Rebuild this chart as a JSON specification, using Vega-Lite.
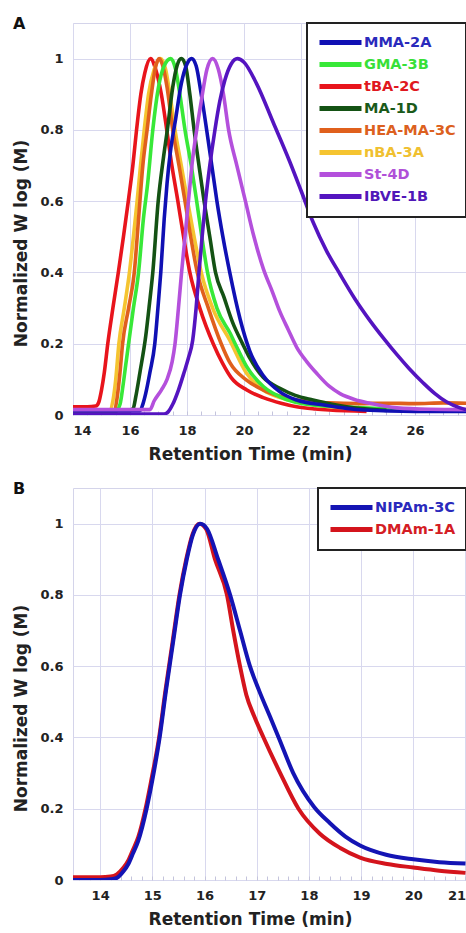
{
  "$schema": "https://vega.github.io/schema/vega-lite/v6.json",
  "background": "white",
  "padding": {"left": 12, "top": 15, "right": 0, "bottom": 0},
  "spacing": 17,
  "config": {
    "font": "DejaVu Sans",
    "view": {"stroke": "#d4d4ea", "strokeWidth": 1},
    "axis": {
      "labelFont": "DejaVu Sans", "labelFontWeight": "bold", "labelFontSize": 13, "labelColor": "#222",
      "titleFont": "DejaVu Sans", "titleFontWeight": "bold", "titleFontSize": 17, "titleColor": "#222",
      "domain": false
    },
    "legend": {
      "orient": "top-right", "offset": 0, "title": null,
      "symbolType": "M-3,0H3", "symbolSize": 196, "symbolStrokeWidth": 5, "symbolOffset": 14,
      "labelFont": "DejaVu Sans", "labelFontWeight": "bold", "labelFontSize": 14.5, "labelOffset": 14,
      "padding": 10, "rowPadding": 1
    },
    "title": {"font": "DejaVu Sans", "fontWeight": "bold", "fontSize": 16, "color": "#111", "anchor": "start", "frame": "bounds", "baseline": "alphabetic", "offset": -10}
  },
  "resolve": {"scale": {"color": "independent"}, "legend": {"color": "independent"}},
  "vconcat": [
    {
      "width": 393, "height": 392,
      "title": {"text": "A"},
      "data": {"values": [
        {"s":"tBA-2C","t":14.0,"v":0.023},{"s":"tBA-2C","t":14.5,"v":0.023},{"s":"tBA-2C","t":14.8,"v":0.025},{"s":"tBA-2C","t":14.9,"v":0.035},{"s":"tBA-2C","t":15.0,"v":0.07},{"s":"tBA-2C","t":15.1,"v":0.12},{"s":"tBA-2C","t":15.22,"v":0.2},{"s":"tBA-2C","t":15.4,"v":0.3},{"s":"tBA-2C","t":15.59,"v":0.4},{"s":"tBA-2C","t":15.77,"v":0.5},{"s":"tBA-2C","t":15.94,"v":0.6},{"s":"tBA-2C","t":16.1,"v":0.7},{"s":"tBA-2C","t":16.23,"v":0.8},{"s":"tBA-2C","t":16.38,"v":0.9},{"s":"tBA-2C","t":16.52,"v":0.96},{"s":"tBA-2C","t":16.72,"v":1.0},{"s":"tBA-2C","t":16.9,"v":0.97},{"s":"tBA-2C","t":17.1,"v":0.9},{"s":"tBA-2C","t":17.29,"v":0.8},{"s":"tBA-2C","t":17.45,"v":0.71},{"s":"tBA-2C","t":17.68,"v":0.6},{"s":"tBA-2C","t":17.88,"v":0.5},{"s":"tBA-2C","t":18.1,"v":0.4},{"s":"tBA-2C","t":18.45,"v":0.3},{"s":"tBA-2C","t":18.92,"v":0.2},{"s":"tBA-2C","t":19.25,"v":0.145},{"s":"tBA-2C","t":19.55,"v":0.105},{"s":"tBA-2C","t":20.1,"v":0.07},{"s":"tBA-2C","t":20.7,"v":0.048},{"s":"tBA-2C","t":21.3,"v":0.033},{"s":"tBA-2C","t":21.85,"v":0.023},{"s":"tBA-2C","t":22.5,"v":0.017},{"s":"tBA-2C","t":23.0,"v":0.014},{"s":"tBA-2C","t":24.3,"v":0.01},

        {"s":"nBA-3A","t":14.0,"v":0.012},{"s":"nBA-3A","t":15.0,"v":0.012},{"s":"nBA-3A","t":15.3,"v":0.015},{"s":"nBA-3A","t":15.4,"v":0.04},{"s":"nBA-3A","t":15.5,"v":0.1},{"s":"nBA-3A","t":15.61,"v":0.2},{"s":"nBA-3A","t":15.8,"v":0.3},{"s":"nBA-3A","t":15.98,"v":0.4},{"s":"nBA-3A","t":16.12,"v":0.5},{"s":"nBA-3A","t":16.25,"v":0.6},{"s":"nBA-3A","t":16.37,"v":0.7},{"s":"nBA-3A","t":16.5,"v":0.8},{"s":"nBA-3A","t":16.65,"v":0.9},{"s":"nBA-3A","t":16.85,"v":0.97},{"s":"nBA-3A","t":17.07,"v":1.0},{"s":"nBA-3A","t":17.25,"v":0.97},{"s":"nBA-3A","t":17.4,"v":0.9},{"s":"nBA-3A","t":17.58,"v":0.8},{"s":"nBA-3A","t":17.8,"v":0.7},{"s":"nBA-3A","t":18.02,"v":0.6},{"s":"nBA-3A","t":18.25,"v":0.5},{"s":"nBA-3A","t":18.5,"v":0.4},{"s":"nBA-3A","t":18.9,"v":0.3},{"s":"nBA-3A","t":19.5,"v":0.21},{"s":"nBA-3A","t":20.09,"v":0.117},{"s":"nBA-3A","t":20.68,"v":0.07},{"s":"nBA-3A","t":21.3,"v":0.048},{"s":"nBA-3A","t":21.85,"v":0.037},{"s":"nBA-3A","t":23.0,"v":0.023},{"s":"nBA-3A","t":24.0,"v":0.018},{"s":"nBA-3A","t":25.0,"v":0.015},

        {"s":"HEA-MA-3C","t":14.0,"v":0.005},{"s":"HEA-MA-3C","t":15.0,"v":0.005},{"s":"HEA-MA-3C","t":15.45,"v":0.01},{"s":"HEA-MA-3C","t":15.55,"v":0.05},{"s":"HEA-MA-3C","t":15.65,"v":0.12},{"s":"HEA-MA-3C","t":15.74,"v":0.2},{"s":"HEA-MA-3C","t":15.95,"v":0.3},{"s":"HEA-MA-3C","t":16.15,"v":0.4},{"s":"HEA-MA-3C","t":16.3,"v":0.55},{"s":"HEA-MA-3C","t":16.45,"v":0.7},{"s":"HEA-MA-3C","t":16.6,"v":0.8},{"s":"HEA-MA-3C","t":16.75,"v":0.9},{"s":"HEA-MA-3C","t":16.88,"v":0.97},{"s":"HEA-MA-3C","t":17.02,"v":1.0},{"s":"HEA-MA-3C","t":17.15,"v":0.98},{"s":"HEA-MA-3C","t":17.3,"v":0.92},{"s":"HEA-MA-3C","t":17.5,"v":0.8},{"s":"HEA-MA-3C","t":17.72,"v":0.7},{"s":"HEA-MA-3C","t":17.93,"v":0.6},{"s":"HEA-MA-3C","t":18.13,"v":0.5},{"s":"HEA-MA-3C","t":18.36,"v":0.4},{"s":"HEA-MA-3C","t":18.75,"v":0.3},{"s":"HEA-MA-3C","t":19.2,"v":0.2},{"s":"HEA-MA-3C","t":19.51,"v":0.146},{"s":"HEA-MA-3C","t":20.09,"v":0.098},{"s":"HEA-MA-3C","t":20.68,"v":0.07},{"s":"HEA-MA-3C","t":21.3,"v":0.052},{"s":"HEA-MA-3C","t":21.85,"v":0.042},{"s":"HEA-MA-3C","t":23.0,"v":0.034},{"s":"HEA-MA-3C","t":24.0,"v":0.032},{"s":"HEA-MA-3C","t":25.0,"v":0.033},{"s":"HEA-MA-3C","t":26.0,"v":0.032},{"s":"HEA-MA-3C","t":27.0,"v":0.034},{"s":"HEA-MA-3C","t":27.8,"v":0.033},

        {"s":"GMA-3B","t":14.0,"v":0.01},{"s":"GMA-3B","t":15.5,"v":0.01},{"s":"GMA-3B","t":15.65,"v":0.03},{"s":"GMA-3B","t":15.75,"v":0.08},{"s":"GMA-3B","t":15.85,"v":0.14},{"s":"GMA-3B","t":15.95,"v":0.2},{"s":"GMA-3B","t":16.12,"v":0.3},{"s":"GMA-3B","t":16.3,"v":0.4},{"s":"GMA-3B","t":16.47,"v":0.55},{"s":"GMA-3B","t":16.62,"v":0.65},{"s":"GMA-3B","t":16.8,"v":0.8},{"s":"GMA-3B","t":17.0,"v":0.92},{"s":"GMA-3B","t":17.2,"v":0.98},{"s":"GMA-3B","t":17.43,"v":1.0},{"s":"GMA-3B","t":17.6,"v":0.97},{"s":"GMA-3B","t":17.75,"v":0.9},{"s":"GMA-3B","t":17.93,"v":0.8},{"s":"GMA-3B","t":18.15,"v":0.7},{"s":"GMA-3B","t":18.34,"v":0.6},{"s":"GMA-3B","t":18.52,"v":0.5},{"s":"GMA-3B","t":18.72,"v":0.4},{"s":"GMA-3B","t":19.05,"v":0.3},{"s":"GMA-3B","t":19.51,"v":0.23},{"s":"GMA-3B","t":19.75,"v":0.19},{"s":"GMA-3B","t":20.09,"v":0.136},{"s":"GMA-3B","t":20.68,"v":0.08},{"s":"GMA-3B","t":21.26,"v":0.051},{"s":"GMA-3B","t":22.42,"v":0.028},{"s":"GMA-3B","t":24.2,"v":0.02},{"s":"GMA-3B","t":26.0,"v":0.015},{"s":"GMA-3B","t":27.8,"v":0.012},

        {"s":"MA-1D","t":14.0,"v":0.012},{"s":"MA-1D","t":16.0,"v":0.012},{"s":"MA-1D","t":16.12,"v":0.02},{"s":"MA-1D","t":16.2,"v":0.05},{"s":"MA-1D","t":16.35,"v":0.12},{"s":"MA-1D","t":16.55,"v":0.22},{"s":"MA-1D","t":16.68,"v":0.31},{"s":"MA-1D","t":16.8,"v":0.4},{"s":"MA-1D","t":16.99,"v":0.6},{"s":"MA-1D","t":17.17,"v":0.72},{"s":"MA-1D","t":17.31,"v":0.8},{"s":"MA-1D","t":17.5,"v":0.92},{"s":"MA-1D","t":17.65,"v":0.98},{"s":"MA-1D","t":17.8,"v":1.0},{"s":"MA-1D","t":17.95,"v":0.98},{"s":"MA-1D","t":18.1,"v":0.9},{"s":"MA-1D","t":18.25,"v":0.8},{"s":"MA-1D","t":18.42,"v":0.7},{"s":"MA-1D","t":18.6,"v":0.6},{"s":"MA-1D","t":18.8,"v":0.5},{"s":"MA-1D","t":19.0,"v":0.4},{"s":"MA-1D","t":19.3,"v":0.33},{"s":"MA-1D","t":19.6,"v":0.26},{"s":"MA-1D","t":19.95,"v":0.2},{"s":"MA-1D","t":20.2,"v":0.16},{"s":"MA-1D","t":20.68,"v":0.105},{"s":"MA-1D","t":21.26,"v":0.075},{"s":"MA-1D","t":21.8,"v":0.055},{"s":"MA-1D","t":22.42,"v":0.042},{"s":"MA-1D","t":23.6,"v":0.023},{"s":"MA-1D","t":24.77,"v":0.014},{"s":"MA-1D","t":25.0,"v":0.013},

        {"s":"MMA-2A","t":14.0,"v":0.012},{"s":"MMA-2A","t":16.35,"v":0.012},{"s":"MMA-2A","t":16.45,"v":0.03},{"s":"MMA-2A","t":16.55,"v":0.06},{"s":"MMA-2A","t":16.7,"v":0.12},{"s":"MMA-2A","t":16.87,"v":0.2},{"s":"MMA-2A","t":16.98,"v":0.3},{"s":"MMA-2A","t":17.08,"v":0.4},{"s":"MMA-2A","t":17.2,"v":0.55},{"s":"MMA-2A","t":17.3,"v":0.65},{"s":"MMA-2A","t":17.42,"v":0.74},{"s":"MMA-2A","t":17.6,"v":0.83},{"s":"MMA-2A","t":17.8,"v":0.93},{"s":"MMA-2A","t":18.0,"v":0.985},{"s":"MMA-2A","t":18.16,"v":1.0},{"s":"MMA-2A","t":18.32,"v":0.98},{"s":"MMA-2A","t":18.5,"v":0.9},{"s":"MMA-2A","t":18.69,"v":0.8},{"s":"MMA-2A","t":18.87,"v":0.7},{"s":"MMA-2A","t":19.05,"v":0.6},{"s":"MMA-2A","t":19.26,"v":0.5},{"s":"MMA-2A","t":19.5,"v":0.4},{"s":"MMA-2A","t":19.86,"v":0.27},{"s":"MMA-2A","t":20.2,"v":0.18},{"s":"MMA-2A","t":20.68,"v":0.11},{"s":"MMA-2A","t":21.26,"v":0.065},{"s":"MMA-2A","t":21.85,"v":0.042},{"s":"MMA-2A","t":22.8,"v":0.028},{"s":"MMA-2A","t":24.2,"v":0.014},{"s":"MMA-2A","t":26.0,"v":0.01},{"s":"MMA-2A","t":27.8,"v":0.01},

        {"s":"St-4D","t":14.0,"v":0.015},{"s":"St-4D","t":16.7,"v":0.015},{"s":"St-4D","t":16.85,"v":0.04},{"s":"St-4D","t":17.1,"v":0.07},{"s":"St-4D","t":17.3,"v":0.1},{"s":"St-4D","t":17.48,"v":0.15},{"s":"St-4D","t":17.58,"v":0.2},{"s":"St-4D","t":17.7,"v":0.3},{"s":"St-4D","t":17.81,"v":0.4},{"s":"St-4D","t":17.93,"v":0.5},{"s":"St-4D","t":18.05,"v":0.6},{"s":"St-4D","t":18.2,"v":0.72},{"s":"St-4D","t":18.34,"v":0.8},{"s":"St-4D","t":18.5,"v":0.88},{"s":"St-4D","t":18.7,"v":0.97},{"s":"St-4D","t":18.9,"v":1.0},{"s":"St-4D","t":19.1,"v":0.97},{"s":"St-4D","t":19.28,"v":0.9},{"s":"St-4D","t":19.46,"v":0.8},{"s":"St-4D","t":19.75,"v":0.7},{"s":"St-4D","t":20.05,"v":0.6},{"s":"St-4D","t":20.35,"v":0.5},{"s":"St-4D","t":20.68,"v":0.41},{"s":"St-4D","t":21.0,"v":0.345},{"s":"St-4D","t":21.26,"v":0.29},{"s":"St-4D","t":21.55,"v":0.24},{"s":"St-4D","t":21.85,"v":0.19},{"s":"St-4D","t":22.2,"v":0.15},{"s":"St-4D","t":22.55,"v":0.117},{"s":"St-4D","t":23.0,"v":0.08},{"s":"St-4D","t":23.37,"v":0.06},{"s":"St-4D","t":23.9,"v":0.043},{"s":"St-4D","t":24.42,"v":0.033},{"s":"St-4D","t":25.36,"v":0.02},{"s":"St-4D","t":26.5,"v":0.016},{"s":"St-4D","t":27.8,"v":0.015},

        {"s":"IBVE-1B","t":14.0,"v":0.003},{"s":"IBVE-1B","t":17.2,"v":0.003},{"s":"IBVE-1B","t":17.35,"v":0.01},{"s":"IBVE-1B","t":17.5,"v":0.03},{"s":"IBVE-1B","t":17.7,"v":0.07},{"s":"IBVE-1B","t":17.9,"v":0.12},{"s":"IBVE-1B","t":18.05,"v":0.16},{"s":"IBVE-1B","t":18.2,"v":0.21},{"s":"IBVE-1B","t":18.32,"v":0.3},{"s":"IBVE-1B","t":18.42,"v":0.4},{"s":"IBVE-1B","t":18.53,"v":0.5},{"s":"IBVE-1B","t":18.65,"v":0.6},{"s":"IBVE-1B","t":18.8,"v":0.7},{"s":"IBVE-1B","t":18.98,"v":0.8},{"s":"IBVE-1B","t":19.15,"v":0.88},{"s":"IBVE-1B","t":19.33,"v":0.94},{"s":"IBVE-1B","t":19.55,"v":0.985},{"s":"IBVE-1B","t":19.77,"v":1.0},{"s":"IBVE-1B","t":20.0,"v":0.99},{"s":"IBVE-1B","t":20.44,"v":0.93},{"s":"IBVE-1B","t":21.03,"v":0.82},{"s":"IBVE-1B","t":21.61,"v":0.71},{"s":"IBVE-1B","t":22.0,"v":0.63},{"s":"IBVE-1B","t":22.43,"v":0.54},{"s":"IBVE-1B","t":22.9,"v":0.46},{"s":"IBVE-1B","t":23.37,"v":0.395},{"s":"IBVE-1B","t":23.9,"v":0.325},{"s":"IBVE-1B","t":24.42,"v":0.265},{"s":"IBVE-1B","t":24.9,"v":0.215},{"s":"IBVE-1B","t":25.36,"v":0.17},{"s":"IBVE-1B","t":25.8,"v":0.13},{"s":"IBVE-1B","t":26.29,"v":0.09},{"s":"IBVE-1B","t":26.7,"v":0.06},{"s":"IBVE-1B","t":27.1,"v":0.037},{"s":"IBVE-1B","t":27.58,"v":0.02},{"s":"IBVE-1B","t":27.8,"v":0.015}
      ]},
      "mark": {"type": "line", "strokeWidth": 3.6, "interpolate": "monotone", "clip": true},
      "encoding": {
        "x": {"field": "t", "type": "quantitative",
          "scale": {"domain": [14, 27.79], "nice": false, "zero": false},
          "axis": {"title": "Retention Time (min)", "titleX": 177, "titlePadding": 9,
            "values": [14,14.5,15,15.5,16,16.5,17,17.5,18,18.5,19,19.5,20,20.5,21,21.5,22,22.5,23,23.5,24,24.5,25,25.5,26,26.5,27,27.5],
            "labelExpr": "datum.value % 2 === 0 ? format(datum.value, 'd') : ''",
            "gridColor": {"condition": {"test": "datum.value % 2 === 0", "value": "#d8d8ee"}, "value": "rgba(0,0,0,0)"},
            "ticks": true, "tickSize": -4, "tickColor": "#c4c4dc", "labelPadding": 13}},
        "y": {"field": "v", "type": "quantitative",
          "scale": {"domain": [0, 1.1], "nice": false},
          "axis": {"title": "Normalized W log (M)", "titleY": 220, "titlePadding": 9, "values": [0,0.2,0.4,0.6,0.8,1], "format": "~g",
            "ticks": false, "labelPadding": 10, "gridColor": "#d8d8ee"}},
        "color": {"field": "s", "type": "nominal",
          "scale": {"domain": ["MMA-2A","GMA-3B","tBA-2C","MA-1D","HEA-MA-3C","nBA-3A","St-4D","IBVE-1B"],
                    "range": ["#1010b4","#38e838","#e8141c","#145214","#e0601c","#f5c430","#b450dc","#5414c0"]},
          "legend": {"encode": {
            "legend": {"update": {"stroke": {"value": "#222"}, "strokeWidth": {"value": 2}, "fill": {"value": "white"}}},
            "labels": {"update": {"fill": {"signal": "datum.value === 'MMA-2A' ? '#2a2abc' : datum.value === 'GMA-3B' ? '#38e038' : datum.value === 'tBA-2C' ? '#e01820' : datum.value === 'MA-1D' ? '#1a5a1a' : datum.value === 'HEA-MA-3C' ? '#dc6020' : datum.value === 'nBA-3A' ? '#f0c030' : datum.value === 'St-4D' ? '#b050d8' : '#5018b8'"}}}
          }}}
      }
    },
    {
      "width": 393, "height": 392,
      "title": {"text": "B"},
      "data": {"values": [
        {"s":"DMAm-1A","t":13.48,"v":0.008},{"s":"DMAm-1A","t":14.0,"v":0.008},{"s":"DMAm-1A","t":14.2,"v":0.01},{"s":"DMAm-1A","t":14.32,"v":0.016},{"s":"DMAm-1A","t":14.45,"v":0.035},{"s":"DMAm-1A","t":14.54,"v":0.055},{"s":"DMAm-1A","t":14.63,"v":0.085},{"s":"DMAm-1A","t":14.73,"v":0.12},{"s":"DMAm-1A","t":14.87,"v":0.2},{"s":"DMAm-1A","t":14.98,"v":0.28},{"s":"DMAm-1A","t":15.13,"v":0.4},{"s":"DMAm-1A","t":15.25,"v":0.53},{"s":"DMAm-1A","t":15.39,"v":0.67},{"s":"DMAm-1A","t":15.52,"v":0.8},{"s":"DMAm-1A","t":15.65,"v":0.9},{"s":"DMAm-1A","t":15.77,"v":0.97},{"s":"DMAm-1A","t":15.9,"v":1.0},{"s":"DMAm-1A","t":16.03,"v":0.985},{"s":"DMAm-1A","t":16.2,"v":0.9},{"s":"DMAm-1A","t":16.43,"v":0.8},{"s":"DMAm-1A","t":16.55,"v":0.7},{"s":"DMAm-1A","t":16.68,"v":0.6},{"s":"DMAm-1A","t":16.8,"v":0.52},{"s":"DMAm-1A","t":16.95,"v":0.46},{"s":"DMAm-1A","t":17.13,"v":0.4},{"s":"DMAm-1A","t":17.45,"v":0.3},{"s":"DMAm-1A","t":17.8,"v":0.2},{"s":"DMAm-1A","t":18.21,"v":0.13},{"s":"DMAm-1A","t":18.6,"v":0.09},{"s":"DMAm-1A","t":18.98,"v":0.063},{"s":"DMAm-1A","t":19.5,"v":0.045},{"s":"DMAm-1A","t":20.0,"v":0.035},{"s":"DMAm-1A","t":20.5,"v":0.026},{"s":"DMAm-1A","t":21.0,"v":0.02},

        {"s":"NIPAm-3C","t":13.48,"v":0.0},{"s":"NIPAm-3C","t":14.0,"v":0.0},{"s":"NIPAm-3C","t":14.2,"v":0.002},{"s":"NIPAm-3C","t":14.32,"v":0.006},{"s":"NIPAm-3C","t":14.45,"v":0.025},{"s":"NIPAm-3C","t":14.54,"v":0.045},{"s":"NIPAm-3C","t":14.63,"v":0.075},{"s":"NIPAm-3C","t":14.73,"v":0.11},{"s":"NIPAm-3C","t":14.89,"v":0.2},{"s":"NIPAm-3C","t":15.0,"v":0.28},{"s":"NIPAm-3C","t":15.14,"v":0.4},{"s":"NIPAm-3C","t":15.26,"v":0.53},{"s":"NIPAm-3C","t":15.4,"v":0.67},{"s":"NIPAm-3C","t":15.53,"v":0.8},{"s":"NIPAm-3C","t":15.66,"v":0.9},{"s":"NIPAm-3C","t":15.78,"v":0.97},{"s":"NIPAm-3C","t":15.92,"v":1.0},{"s":"NIPAm-3C","t":16.05,"v":0.985},{"s":"NIPAm-3C","t":16.26,"v":0.9},{"s":"NIPAm-3C","t":16.49,"v":0.8},{"s":"NIPAm-3C","t":16.68,"v":0.7},{"s":"NIPAm-3C","t":16.87,"v":0.6},{"s":"NIPAm-3C","t":17.05,"v":0.53},{"s":"NIPAm-3C","t":17.25,"v":0.46},{"s":"NIPAm-3C","t":17.42,"v":0.4},{"s":"NIPAm-3C","t":17.7,"v":0.3},{"s":"NIPAm-3C","t":18.1,"v":0.205},{"s":"NIPAm-3C","t":18.4,"v":0.16},{"s":"NIPAm-3C","t":18.7,"v":0.122},{"s":"NIPAm-3C","t":18.98,"v":0.097},{"s":"NIPAm-3C","t":19.48,"v":0.071},{"s":"NIPAm-3C","t":20.0,"v":0.058},{"s":"NIPAm-3C","t":20.5,"v":0.05},{"s":"NIPAm-3C","t":21.0,"v":0.046}
      ]},
      "mark": {"type": "line", "strokeWidth": 4, "interpolate": "monotone", "clip": true},
      "encoding": {
        "x": {"field": "t", "type": "quantitative",
          "scale": {"domain": [13.48, 21.01], "nice": false, "zero": false},
          "axis": {"title": "Retention Time (min)", "titleX": 177, "titlePadding": 9,
            "values": [13.6,13.8,14,14.2,14.4,14.6,14.8,15,15.2,15.4,15.6,15.8,16,16.2,16.4,16.6,16.8,17,17.2,17.4,17.6,17.8,18,18.2,18.4,18.6,18.8,19,19.2,19.4,19.6,19.8,20,20.2,20.4,20.6,20.8,21],
            "labelExpr": "abs(datum.value - round(datum.value)) < 0.01 ? format(datum.value, 'd') : ''",
            "gridColor": {"condition": {"test": "abs(datum.value - round(datum.value)) < 0.01", "value": "#d8d8ee"}, "value": "rgba(0,0,0,0)"},
            "ticks": true, "tickSize": -4, "tickColor": "#c4c4dc", "labelPadding": 13}},
        "y": {"field": "v", "type": "quantitative",
          "scale": {"domain": [0, 1.1], "nice": false},
          "axis": {"title": "Normalized W log (M)", "titleY": 220, "titlePadding": 9, "values": [0,0.2,0.4,0.6,0.8,1], "format": "~g",
            "ticks": false, "labelPadding": 10, "gridColor": "#d8d8ee"}},
        "color": {"field": "s", "type": "nominal",
          "scale": {"domain": ["NIPAm-3C","DMAm-1A"], "range": ["#1414b4","#d4141c"]},
          "legend": {"encode": {
            "legend": {"update": {"stroke": {"value": "#222"}, "strokeWidth": {"value": 2}, "fill": {"value": "white"}}},
            "labels": {"update": {"fill": {"signal": "datum.value === 'NIPAm-3C' ? '#2a2abc' : '#d41c24'"}}}
          }}}
      }
    }
  ]
}
